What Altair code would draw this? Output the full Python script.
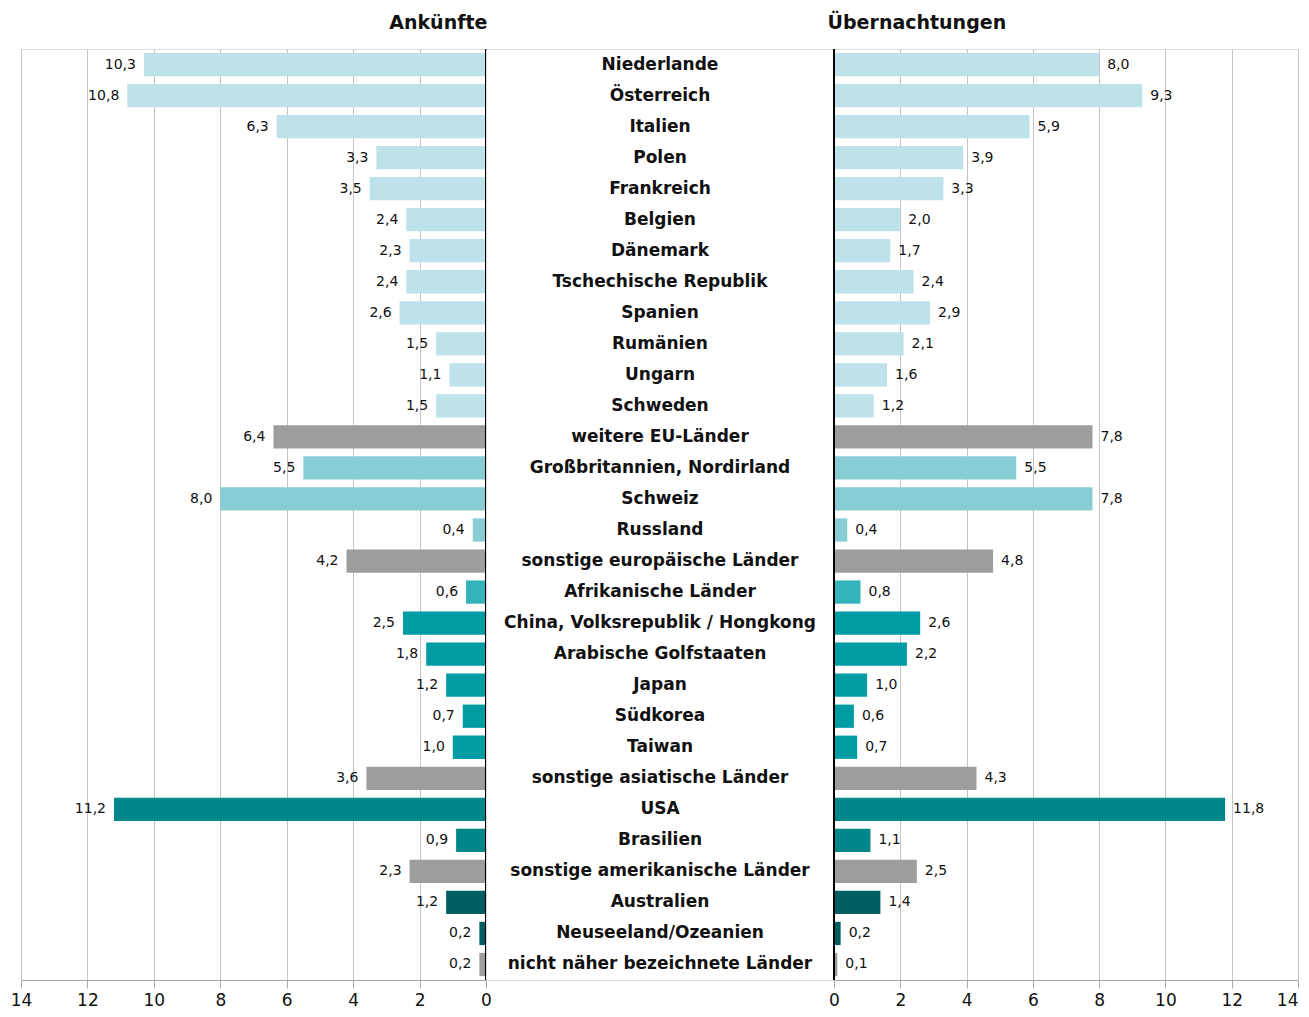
import altair as alt
import pandas as pd

countries = [
    "Niederlande", "Österreich", "Italien", "Polen", "Frankreich", "Belgien",
    "Dänemark", "Tschechische Republik", "Spanien", "Rumänien", "Ungarn",
    "Schweden", "weitere EU-Länder", "Großbritannien, Nordirland", "Schweiz",
    "Russland", "sonstige europäische Länder", "Afrikanische Länder",
    "China, Volksrepublik / Hongkong", "Arabische Golfstaaten", "Japan",
    "Südkorea", "Taiwan", "sonstige asiatische Länder", "USA", "Brasilien",
    "sonstige amerikanische Länder", "Australien", "Neuseeland/Ozeanien",
    "nicht näher bezeichnete Länder",
]
arrivals = [10.3, 10.8, 6.3, 3.3, 3.5, 2.4, 2.3, 2.4, 2.6, 1.5, 1.1, 1.5, 6.4,
            5.5, 8.0, 0.4, 4.2, 0.6, 2.5, 1.8, 1.2, 0.7, 1.0, 3.6, 11.2, 0.9,
            2.3, 1.2, 0.2, 0.2]
nights = [8.0, 9.3, 5.9, 3.9, 3.3, 2.0, 1.7, 2.4, 2.9, 2.1, 1.6, 1.2, 7.8,
          5.5, 7.8, 0.4, 4.8, 0.8, 2.6, 2.2, 1.0, 0.6, 0.7, 4.3, 11.8, 1.1,
          2.5, 1.4, 0.2, 0.1]
groups = ["eu"] * 12 + ["rest"] + ["europa"] * 3 + ["rest"] + ["afrika"] + \
         ["asien"] * 5 + ["rest"] + ["amerika"] * 2 + ["rest"] + \
         ["ozeanien"] * 2 + ["rest"]

group_domain = ["eu", "rest", "europa", "afrika", "asien", "amerika", "ozeanien"]
group_colors = ["#bde2e9", "#9d9d9c", "#89cdd4", "#33b4bb", "#009ca3",
                "#00878a", "#005f63"]

tick_values = [0, 2, 4, 6, 8, 10, 12, 14]


def de(v):
    return f"{v:.1f}".replace(".", ",")


df = pd.DataFrame({
    "land": countries,
    "ank": arrivals,
    "ueb": nights,
    "gruppe": groups,
    "ank_lbl": [de(v) for v in arrivals],
    "ueb_lbl": [de(v) for v in nights],
})
zero = pd.DataFrame({"v": [0]})

FONT = "DejaVu Sans"
PW_L, PW_C, PW_R, PH = 465, 348, 464, 931

yenc = alt.Y("land:N", sort=countries, axis=None,
             scale=alt.Scale(paddingInner=0.25, paddingOuter=0.125))
cenc = alt.Color("gruppe:N", legend=None,
                 scale=alt.Scale(domain=group_domain, range=group_colors))


def xaxis(right_side):
    kw = {}
    if right_side:
        kw["labelAlign"] = alt.expr("datum.value == 14 ? 'right' : 'center'")
    return alt.Axis(values=tick_values, title=None, grid=True,
                    gridColor="#c4c4c4", gridWidth=1, domainColor="#a8a8a8",
                    tickColor="#a8a8a8", tickSize=8, labelFontSize=17,
                    labelPadding=4, labelColor="#111", labelFont=FONT,
                    labelFlush=False, **kw)


def panel(field, label, reverse, title, anchor, dx):
    base = alt.Chart(df)
    xs = alt.Scale(domain=[0, 14], reverse=reverse, nice=False)
    bars = base.mark_bar().encode(
        x=alt.X(f"{field}:Q", scale=xs, axis=xaxis(not reverse)),
        y=yenc, color=cenc)
    text = base.mark_text(
        align="right" if reverse else "left", dx=-8 if reverse else 8,
        fontSize=14, font=FONT, color="#111", baseline="middle"
    ).encode(x=alt.X(f"{field}:Q", scale=xs), y=yenc, text=f"{label}:N")
    rule = alt.Chart(zero).mark_rule(color="black", strokeWidth=2).encode(
        x=alt.X("v:Q", scale=xs))
    return alt.layer(bars, rule, text).properties(
        width=PW_L if reverse else PW_R, height=PH,
        title=alt.TitleParams(title, anchor=anchor, fontSize=19,
                              fontWeight="bold", font=FONT, offset=15,
                              color="#111", dx=dx))


left = panel("ank", "ank_lbl", True, "Ankünfte", "end", -4)
right = panel("ueb", "ueb_lbl", False, "Übernachtungen", "start", -1)

center = alt.Chart(df).mark_text(
    fontSize=17, fontWeight="bold", font=FONT, color="#111", baseline="middle"
).encode(
    y=yenc, x=alt.value(PW_C / 2), text="land:N"
).properties(width=PW_C, height=PH)

chart = alt.hconcat(left, center, right, spacing=0, bounds="flush").properties(
    padding={"left": 1, "top": 5, "right": 0, "bottom": 0}
).configure_view(stroke=None).configure(font=FONT)

chart.save("out.html", embed_options={"renderer": "svg", "actions": False})
